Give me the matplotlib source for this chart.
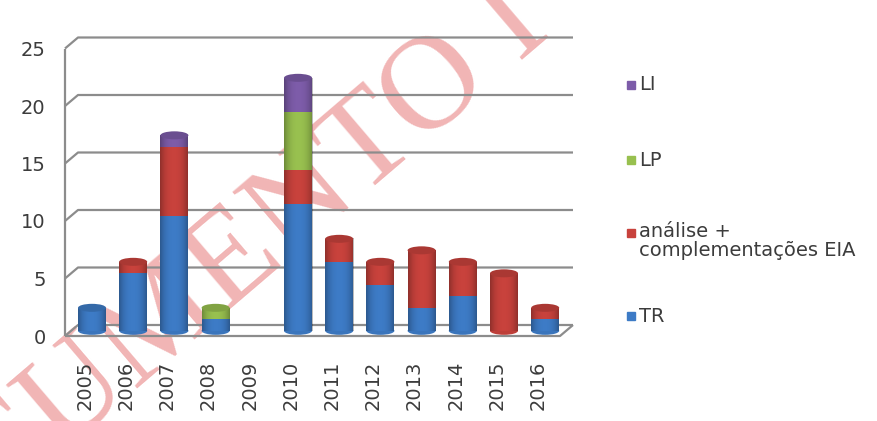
import numpy as np
import matplotlib.pyplot as plt
from matplotlib.patches import Ellipse, Rectangle
from matplotlib.transforms import ScaledTranslation
from matplotlib.colors import to_rgb

years = ['2005', '2006', '2007', '2008', '2009', '2010',
         '2011', '2012', '2013', '2014', '2015', '2016']
tr      = [2, 5, 10, 1, 0, 11, 6, 4, 2, 3, 0, 1]
analise = [0, 1, 6, 0, 0, 3, 2, 2, 5, 3, 5, 1]
lp      = [0, 0, 0, 1, 0, 5, 0, 0, 0, 0, 0, 0]
li      = [0, 0, 1, 0, 0, 3, 0, 0, 0, 0, 0, 0]
series_names = ['TR', 'análise +\ncomplementações EIA', 'LP', 'LI']
yticks = [0, 5, 10, 15, 20, 25]

colors = ['#3d7bc6', '#c8423c', '#98c04f', '#7d5ca9']
txt_color = '#3c3c3c'

W, H = 878, 421
fig = plt.figure(figsize=(W / 100, H / 100), dpi=100)

# pixel layout of the pseudo 3d chart
x0, x_step, px_unit = 92, 41.2, 11.5
ax_l, ax_r, ax_b, ax_t = 65, 600, 336, 20
ax = fig.add_axes([ax_l / W, 1 - ax_b / H, (ax_r - ax_l) / W, (ax_b - ax_t) / H])
xlim = ((ax_l - x0) / x_step, (ax_r - x0) / x_step)
ylim = (0, (ax_b - ax_t) / px_unit)

# walls / gridlines (front edge + receding back lines)
wall = xlim[0]
dx, dy = 13 / x_step, 11 / px_unit
back_end = (573 - x0) / x_step
front_end = (560 - x0) / x_step
gkw = dict(color='#8c8c8c', lw=1.6, clip_on=False, zorder=1, solid_capstyle='butt')
ax.plot([wall, wall], [0, max(yticks)], **gkw)
for v in yticks:
    ax.plot([wall, wall + dx, back_end], [v, v + dy, v + dy], **gkw)
ax.plot([wall, front_end, back_end], [0, 0, dy], **gkw)

# stacked cylinders
x = np.arange(len(years))
base = 0.45
width = 28 / x_step
cap_h = 8 / px_unit
stack = [np.array(s) for s in [tr, analise, lp, li]]
bottom = np.full(len(years), base, dtype=float)
for vals, c in zip(stack, colors):
    ax.bar(x, vals, width, bottom=bottom, color=c, zorder=3, linewidth=0)
    bottom += vals

def darker(c, f):
    return tuple(np.array(to_rgb(c)) * f)

t = np.linspace(-1, 1, 40)
shade = np.zeros((1, 40, 4))
shade[0, :, 3] = 0.28 * np.abs(t) ** 2.5
for i in x:
    total = bottom[i] - base
    if total <= 0:
        continue
    first = next(k for k, s in enumerate(stack) if s[i] > 0)
    last = max(k for k, s in enumerate(stack) if s[i] > 0)
    ax.add_patch(Ellipse((i, base), width, cap_h, color=darker(colors[first], 0.95), zorder=2.9, lw=0))
    ax.imshow(shade, extent=[i - width / 2, i + width / 2, base, bottom[i]],
              aspect='auto', zorder=3.5, interpolation='bilinear')
    ax.add_patch(Ellipse((i, bottom[i]), width, cap_h, color=darker(colors[last], 0.85), zorder=4, lw=0))

ax.set_xlim(*xlim)
ax.set_ylim(*ylim)
for s in ax.spines.values():
    s.set_visible(False)
ax.set_xticks(x, years, rotation=90, fontsize=14, color=txt_color)
ax.set_yticks(yticks, [str(v) for v in yticks], fontsize=14, color=txt_color)
ax.tick_params(axis='x', length=0, pad=18)
ax.tick_params(axis='y', length=0, pad=14)
for lab in ax.get_xticklabels():
    lab.set_transform(lab.get_transform() + ScaledTranslation(-7 / 100, 0, fig.dpi_scale_trans))
ax.patch.set_alpha(0)

# legend, Excel style (top entry = top of stack)
leg_rows = [(3, 85), (2, 160), (1, 233), (0, 316)]
for k, yp in leg_rows:
    fig.patches.append(Rectangle((627 / W, 1 - (yp + 4) / H), 8 / W, 8 / H,
                                 transform=fig.transFigure, color=colors[k]))
    name = series_names[k]
    if '\n' in name:
        fig.text(639 / W, 1 - (yp - 11) / H, name, fontsize=14, color=txt_color,
                 va='top', ha='left', linespacing=1.0)
    else:
        fig.text(639 / W, 1 - yp / H, name, fontsize=14, color=txt_color,
                 va='center', ha='left')

# watermark, behind the chart
fig.text(-153 / W, 1 - 636 / H, 'DOCUMENTO I', fontsize=96, family='Liberation Serif',
         rotation=40.5, rotation_mode='anchor', ha='left', va='baseline',
         color='#e05a5a', alpha=0.45, zorder=-1)

fig.savefig('out.png', dpi=100)
